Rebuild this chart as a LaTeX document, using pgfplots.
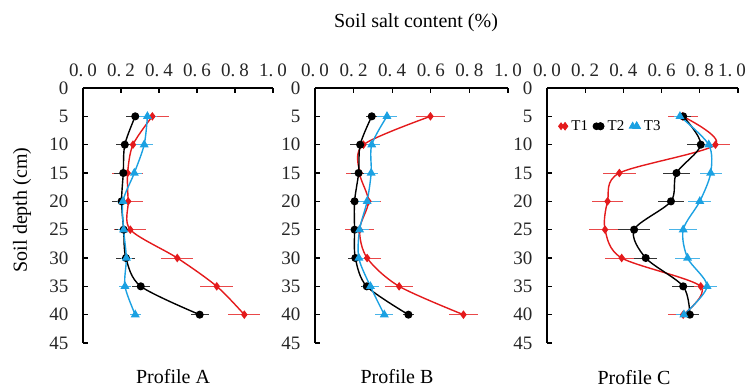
\documentclass[border=0pt]{standalone}
\usepackage{fontspec}
\setmainfont{Liberation Serif}
\usepackage{pgfplots}
\usepackage{pgfplotstable}
\pgfplotsset{compat=1.18}
\definecolor{cT1}{RGB}{228,26,28}
\definecolor{cT3}{RGB}{27,161,226}

\pgfplotstableread{
d T1 e1 T2 e2 T3 e3
5 0.365 0.087 0.275 0.048 0.339 0.05
10 0.263 0.04 0.22 0.048 0.322 0.045
15 0.235 0.08 0.212 0.05 0.27 0.04
20 0.238 0.08 0.203 0.05 0.21 0.03
25 0.249 0.085 0.214 0.048 0.214 0.03
30 0.496 0.085 0.226 0.05 0.228 0.03
35 0.704 0.087 0.304 0.048 0.221 0.03
40 0.849 0.085 0.614 0.048 0.275 0.03
}\dataA
\pgfplotstableread{
d T1 e1 T2 e2 T3 e3
5 0.598 0.074 0.294 0.03 0.373 0.05
10 0.251 0.07 0.234 0.055 0.294 0.045
15 0.231 0.07 0.226 0.04 0.291 0.035
20 0.277 0.065 0.205 0.025 0.27 0.065
25 0.231 0.073 0.205 0.025 0.231 0.05
30 0.27 0.073 0.209 0.04 0.227 0.03
35 0.436 0.073 0.268 0.03 0.287 0.043
40 0.769 0.073 0.484 0.03 0.359 0.047
}\dataB
\pgfplotstableread{
d T1 e1 T2 e2 T3 e3
5 0.71 0.078 0.713 0.04 0.696 0.03
10 0.882 0.078 0.805 0.07 0.847 0.03
15 0.379 0.085 0.678 0.07 0.857 0.057
20 0.317 0.083 0.649 0.067 0.80 0.06
25 0.304 0.085 0.456 0.083 0.713 0.074
30 0.391 0.087 0.517 0.06 0.736 0.065
35 0.805 0.05 0.713 0.056 0.838 0.054
40 0.713 0.078 0.748 0.048 0.717 0.04
}\dataC

\pgfplotsset{
  panel/.style={
    scale only axis, height=255pt,
    xmin=0, xmax=1, ymin=0, ymax=45, y dir=reverse,
    axis x line=top, axis y line=left,
    axis line style={-, line width=1.4pt},
    tick style={black, line width=1.2pt},
    major tick length=5pt, tick align=inside,
    xtick={0,0.2,0.4,0.6,0.8,1},
    xticklabels={0.\hspace{.22em}0,0.\hspace{.22em}2,0.\hspace{.22em}4,0.\hspace{.22em}6,0.\hspace{.22em}8,1.\hspace{.22em}0},
    ytick={0,5,...,45},
    yticklabels={0,5,10,15,20,25,30,35,40,45},
    tick label style={font=\fontsize{19}{19}\selectfont, text=black!85},
    xticklabel style={yshift=8pt},
    yticklabel style={xshift=-11pt},
    clip=false,
  },
  sT1/.style={cT1, line width=1.4pt, smooth, mark=diamond*, mark size=3.2pt, mark options={solid,fill=cT1},
    error bars/.cd, x dir=both, x explicit, error mark=none, error bar style={line width=1pt, cT1!80}},
  sT2/.style={black, line width=1.4pt, smooth, mark=*, mark size=3.3pt, mark options={solid,fill=black},
    error bars/.cd, x dir=both, x explicit, error mark=none, error bar style={line width=1pt, black!80}},
  sT3/.style={cT3, line width=1.4pt, smooth, mark=triangle*, mark size=3.8pt, mark options={solid,fill=cT3},
    error bars/.cd, x dir=both, x explicit, error mark=none, error bar style={line width=1pt, cT3!80}},
}

\begin{document}
\begin{tikzpicture}[x=1pt,y=1pt]
\useasboundingbox (0,0) rectangle (748,389);

\begin{axis}[panel, width=190pt, at={(83pt,46pt)}, anchor=south west]
\addplot+[sT1] table[x=T1,y=d,x error=e1] {\dataA};
\addplot+[sT2] table[x=T2,y=d,x error=e2] {\dataA};
\addplot+[sT3] table[x=T3,y=d,x error=e3] {\dataA};
\end{axis}

\begin{axis}[panel, width=193pt, at={(315pt,46pt)}, anchor=south west]
\addplot+[sT1] table[x=T1,y=d,x error=e1] {\dataB};
\addplot+[sT2] table[x=T2,y=d,x error=e2] {\dataB};
\addplot+[sT3] table[x=T3,y=d,x error=e3] {\dataB};
\end{axis}

\begin{axis}[panel, width=191pt, at={(547pt,46pt)}, anchor=south west,
  xticklabels={0.\hspace{.22em}0,0.\hspace{.22em}2,0.\hspace{.22em}4,0.\hspace{.22em}6,0.\hspace{.22em}8,\hspace{-12pt}1.\hspace{.22em}0},
  legend style={at={(rel axis cs:0.06,0.85)}, anchor=west, draw=none, fill=none,
    font=\fontsize{15}{15}\selectfont, legend columns=3, column sep=2pt,
    inner sep=0pt, /tikz/every even column/.append style={column sep=3pt}},
  legend cell align=left,
  legend image code/.code={\draw[#1, line width=1pt] plot coordinates {(0pt,0pt) (4pt,0pt)}; \draw[#1,only marks] plot coordinates {(4pt,0pt)};}]
\addplot+[sT1] table[x=T1,y=d,x error=e1] {\dataC};
\addlegendentry{T1}
\addplot+[sT2] table[x=T2,y=d,x error=e2] {\dataC};
\addlegendentry{T2}
\addplot+[sT3] table[x=T3,y=d,x error=e3] {\dataC};
\addlegendentry{T3}
\end{axis}

\node[font=\fontsize{20}{20}\selectfont] at (416,366) {Soil salt content (\%)};
\node[font=\fontsize{20}{20}\selectfont, rotate=90] at (22,179) {Soil depth (cm)};
\node[font=\fontsize{20}{20}\selectfont] at (173,12) {Profile A};
\node[font=\fontsize{20}{20}\selectfont] at (397,12) {Profile B};
\node[font=\fontsize{20}{20}\selectfont] at (634,11) {Profile C};
\end{tikzpicture}
\end{document}
